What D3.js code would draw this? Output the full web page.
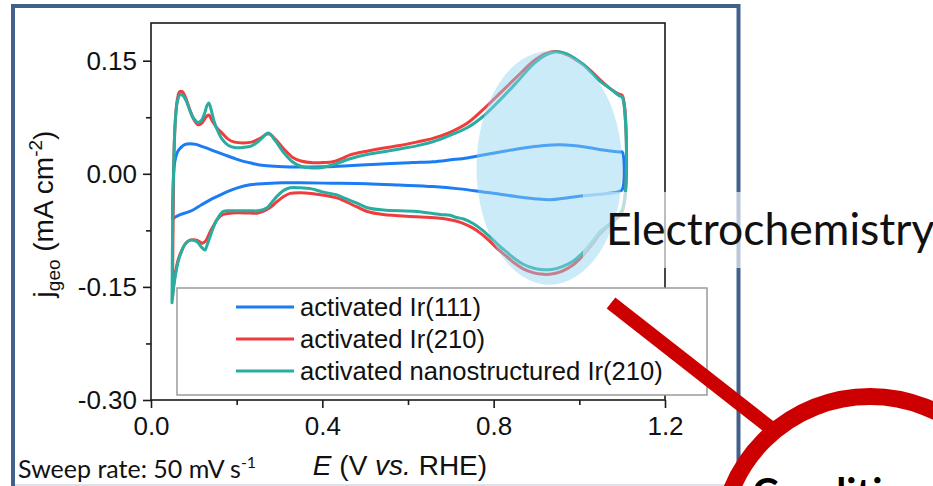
<!DOCTYPE html>
<html>
<head>
<meta charset="utf-8">
<script src="https://cdn.jsdelivr.net/npm/d3@7"></script>
<style>
  html, body { margin: 0; padding: 0; background: #fff; overflow: hidden; }
  svg { display: block; }
</style>
</head>
<body>
<svg id="chart" width="933" height="486"></svg>
<script>
// ---- Cyclic voltammograms: [E (V vs. RHE), j_geo (mA cm^-2)] ----
// anodic sweep 0.05 -> 1.10 V, then cathodic sweep back to 0.05 V

const ir111Forward = [
  [0.050,-0.060],[0.051,-0.035],[0.052,-0.010],[0.054,0.009],[0.057,0.020],[0.062,0.029],
  [0.070,0.035],[0.080,0.039],[0.091,0.040],[0.105,0.039],[0.120,0.036],[0.135,0.033],
  [0.153,0.029],[0.172,0.025],[0.192,0.021],[0.210,0.0175],[0.231,0.0146],[0.250,0.012],
  [0.270,0.0106],[0.309,0.0093],[0.348,0.009],[0.400,0.0093],[0.450,0.0105],[0.504,0.012],
  [0.560,0.0135],[0.610,0.015],[0.658,0.016],[0.700,0.0185],[0.738,0.021],[0.775,0.025],
  [0.815,0.029],[0.855,0.033],[0.892,0.036],[0.925,0.038],[0.955,0.0385],[0.985,0.0375],
  [1.009,0.036],[1.050,0.032],[1.095,0.029],[1.100,0.029]
];
const ir111Reverse = [
  [1.100,0.029],[1.100,-0.021],[1.090,-0.024],[1.050,-0.027],[1.009,-0.029],[0.970,-0.032],
  [0.932,-0.0345],[0.895,-0.033],[0.855,-0.0305],[0.815,-0.027],[0.775,-0.024],[0.720,-0.020],
  [0.658,-0.017],[0.580,-0.015],[0.504,-0.0133],[0.420,-0.0125],[0.348,-0.012],[0.308,-0.012],
  [0.270,-0.013],[0.231,-0.0146],[0.200,-0.019],[0.177,-0.024],[0.158,-0.029],[0.138,-0.0345],
  [0.118,-0.041],[0.098,-0.048],[0.080,-0.052],[0.068,-0.054],[0.058,-0.057],[0.051,-0.060]
];

const ir210Forward = [
  [0.050,-0.165],[0.051,-0.100],[0.052,-0.040],[0.053,0.010],[0.055,0.050],[0.058,0.080],
  [0.062,0.100],[0.067,0.109],[0.073,0.109],[0.080,0.102],[0.090,0.086],[0.100,0.072],
  [0.110,0.065],[0.120,0.068],[0.128,0.075],[0.135,0.078],[0.142,0.071],[0.155,0.060],
  [0.166,0.054],[0.180,0.046],[0.195,0.042],[0.215,0.041],[0.235,0.042],[0.255,0.047],
  [0.274,0.053],[0.290,0.046],[0.310,0.033],[0.330,0.022],[0.350,0.017],[0.378,0.0146],
  [0.400,0.015],[0.425,0.016],[0.445,0.020],[0.465,0.025],[0.504,0.030],[0.540,0.034],
  [0.581,0.0375],[0.620,0.042],[0.658,0.047],[0.698,0.055],[0.738,0.067],[0.775,0.085],
  [0.815,0.107],[0.855,0.129],[0.892,0.149],[0.920,0.159],[0.948,0.162],[0.971,0.158],
  [0.990,0.152],[1.009,0.145],[1.030,0.135],[1.048,0.125],[1.072,0.113],[1.095,0.105],
  [1.100,0.104]
];
const ir210Reverse = [
  [1.100,0.104],[1.100,-0.050],[1.075,-0.065],[1.048,-0.080],[1.030,-0.094],[1.009,-0.108],
  [0.985,-0.121],[0.960,-0.129],[0.935,-0.133],[0.910,-0.133],[0.892,-0.131],[0.869,-0.126],
  [0.850,-0.119],[0.831,-0.110],[0.810,-0.100],[0.792,-0.090],[0.772,-0.080],[0.752,-0.072],
  [0.730,-0.066],[0.714,-0.063],[0.698,-0.061],[0.675,-0.059],[0.621,-0.057],[0.542,-0.054],
  [0.505,-0.050],[0.481,-0.044],[0.455,-0.037],[0.434,-0.032],[0.400,-0.028],[0.375,-0.026],
  [0.348,-0.025],[0.325,-0.026],[0.310,-0.030],[0.294,-0.037],[0.282,-0.043],[0.271,-0.047],
  [0.250,-0.052],[0.231,-0.052],[0.190,-0.052],[0.168,-0.054],[0.154,-0.061],[0.145,-0.070],
  [0.138,-0.077],[0.130,-0.087],[0.126,-0.090],[0.119,-0.092],[0.107,-0.088],[0.091,-0.088],
  [0.080,-0.093],[0.070,-0.104],[0.063,-0.115],[0.056,-0.135],[0.052,-0.152],[0.050,-0.165]
];

const nanoIr210Forward = [
  [0.049,-0.171],[0.050,-0.100],[0.051,-0.040],[0.053,0.010],[0.055,0.050],[0.058,0.080],
  [0.062,0.097],[0.068,0.105],[0.074,0.104],[0.082,0.097],[0.090,0.085],[0.100,0.073],
  [0.110,0.068],[0.118,0.071],[0.125,0.080],[0.131,0.091],[0.135,0.094],[0.140,0.086],
  [0.147,0.070],[0.155,0.058],[0.166,0.046],[0.180,0.038],[0.195,0.035],[0.215,0.035],
  [0.235,0.037],[0.255,0.045],[0.274,0.054],[0.290,0.044],[0.310,0.028],[0.330,0.016],
  [0.350,0.010],[0.370,0.008],[0.400,0.0085],[0.425,0.012],[0.445,0.016],[0.465,0.020],
  [0.504,0.0255],[0.540,0.029],[0.581,0.033],[0.620,0.037],[0.658,0.0425],[0.698,0.051],
  [0.738,0.061],[0.775,0.076],[0.815,0.098],[0.855,0.122],[0.892,0.145],[0.920,0.157],
  [0.948,0.162],[0.971,0.159],[0.990,0.153],[1.009,0.145],[1.030,0.133],[1.048,0.123],
  [1.072,0.113],[1.095,0.103],[1.100,0.102]
];
const nanoIr210Reverse = [
  [1.100,0.102],[1.100,-0.048],[1.075,-0.064],[1.048,-0.077],[1.030,-0.090],[1.009,-0.104],
  [0.985,-0.116],[0.960,-0.123],[0.935,-0.127],[0.910,-0.127],[0.892,-0.125],[0.869,-0.120],
  [0.850,-0.113],[0.831,-0.104],[0.810,-0.094],[0.792,-0.084],[0.772,-0.074],[0.752,-0.066],
  [0.730,-0.060],[0.714,-0.058],[0.698,-0.055],[0.675,-0.054],[0.621,-0.050],[0.542,-0.048],
  [0.505,-0.045],[0.481,-0.039],[0.455,-0.033],[0.434,-0.028],[0.400,-0.024],[0.375,-0.020],
  [0.348,-0.0186],[0.325,-0.0186],[0.310,-0.022],[0.294,-0.030],[0.282,-0.038],[0.271,-0.045],
  [0.250,-0.049],[0.231,-0.049],[0.190,-0.049],[0.168,-0.050],[0.154,-0.061],[0.145,-0.072],
  [0.138,-0.083],[0.130,-0.096],[0.126,-0.101],[0.119,-0.098],[0.107,-0.090],[0.091,-0.088],
  [0.080,-0.093],[0.070,-0.105],[0.063,-0.117],[0.056,-0.138],[0.051,-0.160],[0.049,-0.171]
];

const seriesLabels = ["activated Ir(111)", "activated Ir(210)", "activated nanostructured Ir(210)"];

// axis ticks
const xMajorTicks = [0.0, 0.4, 0.8, 1.2];
const xTickLabels = ["0.0", "0.4", "0.8", "1.2"];
const xMinorTicks = [0.2, 0.6, 1.0];
const yMajorTicks = [-0.30, -0.15, 0.00, 0.15];
const yTickLabels = ["-0.30", "-0.15", "0.00", "0.15"];
const yMinorTicks = [-0.225, -0.075, 0.075];

// highlighted oxide region (centre and half-widths in data units)
const highlightCenter = [0.93, 0.008];
const highlightHalfSpan = [0.17, 0.155];

// ---- styling ----
const seriesColors = ["#1b7cf4", "#f03c3c", "#28ada0"];
const axisFont = "'Liberation Sans', Arial, sans-serif";
const slideFont = "Lato, 'Open Sans', sans-serif";

const svg = d3.select("#chart");

// slide panel frame
svg.append("rect")
  .attr("x", 13).attr("y", 6).attr("width", 725.5).attr("height", 500)
  .attr("fill", "none").attr("stroke", "#41618c").attr("stroke-width", 4);
svg.append("line")
  .attr("x1", 15).attr("x2", 736).attr("y1", 485).attr("y2", 485)
  .attr("stroke", "#d3d9e0").attr("stroke-width", 1.5);

const x = d3.scaleLinear().domain([0, 1.2]).range([151, 665]);
const y = d3.scaleLinear().domain([-0.30, 0.20]).range([400, 23]);

// axes
const gx = svg.append("g").attr("transform", `translate(0,${y(-0.30)})`)
  .call(d3.axisBottom(x).tickValues(xMajorTicks).tickSize(8).tickSizeOuter(0).tickPadding(9)
    .tickFormat((d, i) => xTickLabels[i]));
const gxm = svg.append("g").attr("transform", `translate(0,${y(-0.30)})`)
  .call(d3.axisBottom(x).tickValues(xMinorTicks).tickSize(5).tickSizeOuter(0).tickFormat(""));
const gy = svg.append("g").attr("transform", `translate(${x(0)},0)`)
  .call(d3.axisLeft(y).tickValues(yMajorTicks).tickSize(8).tickSizeOuter(0).tickPadding(6)
    .tickFormat((d, i) => yTickLabels[i]));
const gym = svg.append("g").attr("transform", `translate(${x(0)},0)`)
  .call(d3.axisLeft(y).tickValues(yMinorTicks).tickSize(5).tickSizeOuter(0).tickFormat(""));

[gx, gxm, gy, gym].forEach(g => {
  g.select(".domain").remove();
  g.selectAll(".tick line").attr("stroke", "#1a1a1a").attr("stroke-width", 1.6);
  g.selectAll(".tick text").attr("fill", "#111").style("font-family", axisFont).style("font-size", "26px");
});

// plot box
svg.append("rect")
  .attr("x", x(0)).attr("y", y(0.20))
  .attr("width", x(1.2) - x(0)).attr("height", y(-0.30) - y(0.20))
  .attr("fill", "none").attr("stroke", "#1a1a1a").attr("stroke-width", 1.6);

// voltammogram loops
const loops = [
  ir111Forward.concat(ir111Reverse.slice(1)),
  ir210Forward.concat(ir210Reverse.slice(1)),
  nanoIr210Forward.concat(nanoIr210Reverse.slice(1))
];
const line = d3.line()
  .x(d => x(d[0])).y(d => y(d[1]))
  .curve(d3.curveCatmullRom.alpha(0.5));

svg.append("g").selectAll("path").data(loops).join("path")
  .attr("d", line)
  .attr("fill", "none")
  .attr("stroke", (d, i) => seriesColors[i])
  .attr("stroke-width", 3)
  .attr("stroke-linejoin", "round")
  .attr("stroke-linecap", "round");

// legend
const legend = svg.append("g");
legend.append("rect")
  .attr("x", 177).attr("y", 288).attr("width", 530).attr("height", 107)
  .attr("fill", "#fff").attr("stroke", "#9a9a9a").attr("stroke-width", 1.5);
const legendRows = legend.selectAll("g.row").data(seriesLabels).join("g")
  .attr("class", "row")
  .attr("transform", (d, i) => `translate(0,${307 + i * 32})`);
legendRows.append("line")
  .attr("x1", 236).attr("x2", 294).attr("y1", 0).attr("y2", 0)
  .attr("stroke", (d, i) => seriesColors[i]).attr("stroke-width", 3);
legendRows.append("text")
  .attr("x", 300).attr("y", 9)
  .style("font-family", axisFont).style("font-size", "25.6px").attr("fill", "#111")
  .text(d => d);

// axis titles
const xTitle = svg.append("text")
  .attr("x", 400).attr("y", 475).attr("text-anchor", "middle")
  .style("font-family", axisFont).style("font-size", "28px").attr("fill", "#111");
xTitle.append("tspan").style("font-style", "italic").text("E");
xTitle.append("tspan").text(" (V ");
xTitle.append("tspan").style("font-style", "italic").text("vs.");
xTitle.append("tspan").text(" RHE)");

const yTitle = svg.append("text")
  .attr("transform", "translate(53,214) rotate(-90)")
  .attr("text-anchor", "middle")
  .style("font-family", axisFont).style("font-size", "28px").attr("fill", "#111");
yTitle.append("tspan").text("j");
yTitle.append("tspan").attr("dy", 7).style("font-size", "19px").text("geo");
yTitle.append("tspan").attr("dy", -7).text(" (mA cm");
yTitle.append("tspan").attr("dy", -11).style("font-size", "19px").text("-2");
yTitle.append("tspan").attr("dy", 11).text(")");

// sweep rate note
const note = svg.append("text")
  .attr("x", 18).attr("y", 478)
  .style("font-family", slideFont).style("font-size", "25px").attr("fill", "#111");
note.append("tspan").text("Sweep rate: 50 mV s");
note.append("tspan").attr("dy", -10).style("font-size", "16px").text("-1");

// caption panel over the plot edge
svg.append("rect")
  .attr("x", 583).attr("y", 192).attr("width", 360).attr("height", 76)
  .attr("fill", "#fff").attr("opacity", 0.65);

// highlighted oxide region
svg.append("ellipse")
  .attr("cx", x(highlightCenter[0])).attr("cy", y(highlightCenter[1]))
  .attr("rx", x(highlightCenter[0] + highlightHalfSpan[0]) - x(highlightCenter[0]))
  .attr("ry", y(highlightCenter[1] - highlightHalfSpan[1]) - y(highlightCenter[1]))
  .attr("fill", "#8fd3f0").attr("opacity", 0.45);

svg.append("text")
  .attr("x", 606).attr("y", 245)
  .style("font-family", slideFont).style("font-size", "44.5px").attr("fill", "#111")
  .text("Electrochemistry");

// callout
svg.append("line")
  .attr("x1", 611).attr("y1", 303).attr("x2", 772).attr("y2", 429)
  .attr("stroke", "#cc0000").attr("stroke-width", 14);
svg.append("circle")
  .attr("cx", 870).attr("cy", 546).attr("r", 149.5)
  .attr("fill", "#fff").attr("stroke", "#cc0000").attr("stroke-width", 17);
svg.append("text")
  .attr("x", 752).attr("y", 507)
  .style("font-family", slideFont).style("font-size", "40px").style("font-weight", "bold").attr("fill", "#000")
  .text("Conditions");
</script>
</body>
</html>
